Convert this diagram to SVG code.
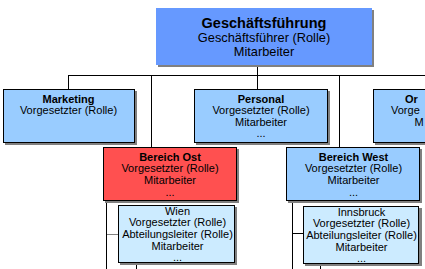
<svg xmlns="http://www.w3.org/2000/svg" width="425" height="269" viewBox="0 0 425 269">
<style>
text{font-family:"Liberation Sans",Arial,sans-serif;font-size:11px;fill:#000;text-anchor:middle}
.b{font-weight:bold}
.s{fill:#808080}
.box{stroke:#000;stroke-width:1}
.l1{fill:#99CCFF}
.l2{fill:#CCEBFF}
.red{fill:#FF5050}
.con{stroke:#000;stroke-width:1;fill:none}
</style>
<rect width="425" height="269" fill="#fff"/>
<g id="connectors">
<path class="con" d="M257.5 65V75.5M68 75.5H425M68.5 75V89M151.5 75V147M257.5 75V89M339.5 75V147M106.5 201V269M136.5 263V269M292.5 201V269M292 233.5H303M320.5 264V269"/>
<path d="M107 234.5H118" stroke="#808080" stroke-width="1"/>
</g>
<g id="geschaeftsfuehrung">
<rect class="s" x="158" y="10" width="216" height="57"/>
<rect x="156" y="8" width="216" height="57" fill="#6699FF"/>
<text x="264" y="28" class="b" style="font-size:14.5px">Geschäftsführung</text>
<text x="264" y="42" style="font-size:12.8px">Geschäftsführer (Rolle)</text>
<text x="264" y="55.5" style="font-size:12.8px">Mitarbeiter</text>
</g>
<g id="marketing">
<rect class="s" x="5" y="91" width="132" height="54"/>
<rect class="box l1" x="3.5" y="89.5" width="131" height="53"/>
<text x="68.5" y="102.5" class="b">Marketing</text>
<text x="68.5" y="114">Vorgesetzter (Rolle)</text>
</g>
<g id="personal">
<rect class="s" x="196" y="91" width="134" height="54"/>
<rect class="box l1" x="194.5" y="89.5" width="133" height="53"/>
<text x="261" y="102.5" class="b">Personal</text>
<text x="261" y="114">Vorgesetzter (Rolle)</text>
<text x="261" y="125.7">Mitarbeiter</text>
<text x="261" y="137.3">...</text>
</g>
<g id="org">
<rect class="s" x="375" y="91" width="134" height="54"/>
<rect class="box l1" x="373.5" y="89.5" width="133" height="53"/>
<text x="405" y="102.5" class="b" style="text-anchor:start">Or</text>
<text x="391" y="114" style="text-anchor:start">Vorge</text>
<text x="414.5" y="125.7" style="text-anchor:start">M</text>
</g>
<g id="bereich-ost">
<rect class="s" x="105" y="149" width="134" height="54"/>
<rect class="box red" x="103.5" y="147.5" width="133" height="53"/>
<text x="170" y="160.7" class="b">Bereich Ost</text>
<text x="170" y="172.3">Vorgesetzter (Rolle)</text>
<text x="170" y="184">Mitarbeiter</text>
<text x="170" y="195.5">...</text>
</g>
<g id="bereich-west">
<rect class="s" x="288" y="149" width="134" height="54"/>
<rect class="box l1" x="286.5" y="147.5" width="133" height="53"/>
<text x="353.5" y="160.7" class="b">Bereich West</text>
<text x="353.5" y="172.3">Vorgesetzter (Rolle)</text>
<text x="353.5" y="184">Mitarbeiter</text>
<text x="353.5" y="195.5">...</text>
</g>
<g id="wien">
<rect class="s" x="120" y="207" width="117" height="58"/>
<rect class="box l2" x="118.5" y="205.5" width="116" height="57"/>
<text x="177.5" y="215.3">Wien</text>
<text x="177.5" y="226.3">Vorgesetzter (Rolle)</text>
<text x="177.5" y="238">Abteilungsleiter (Rolle)</text>
<text x="177.5" y="249.7">Mitarbeiter</text>
<text x="177.5" y="261">...</text>
</g>
<g id="innsbruck">
<rect class="s" x="305" y="208" width="117" height="58"/>
<rect class="box l2" x="303.5" y="206.5" width="115" height="57"/>
<text x="361.5" y="216.3">Innsbruck</text>
<text x="361.5" y="227.3">Vorgesetzter (Rolle)</text>
<text x="361.5" y="239">Abteilungsleiter (Rolle)</text>
<text x="361.5" y="250.7">Mitarbeiter</text>
<text x="361.5" y="262">...</text>
</g>
</svg>
